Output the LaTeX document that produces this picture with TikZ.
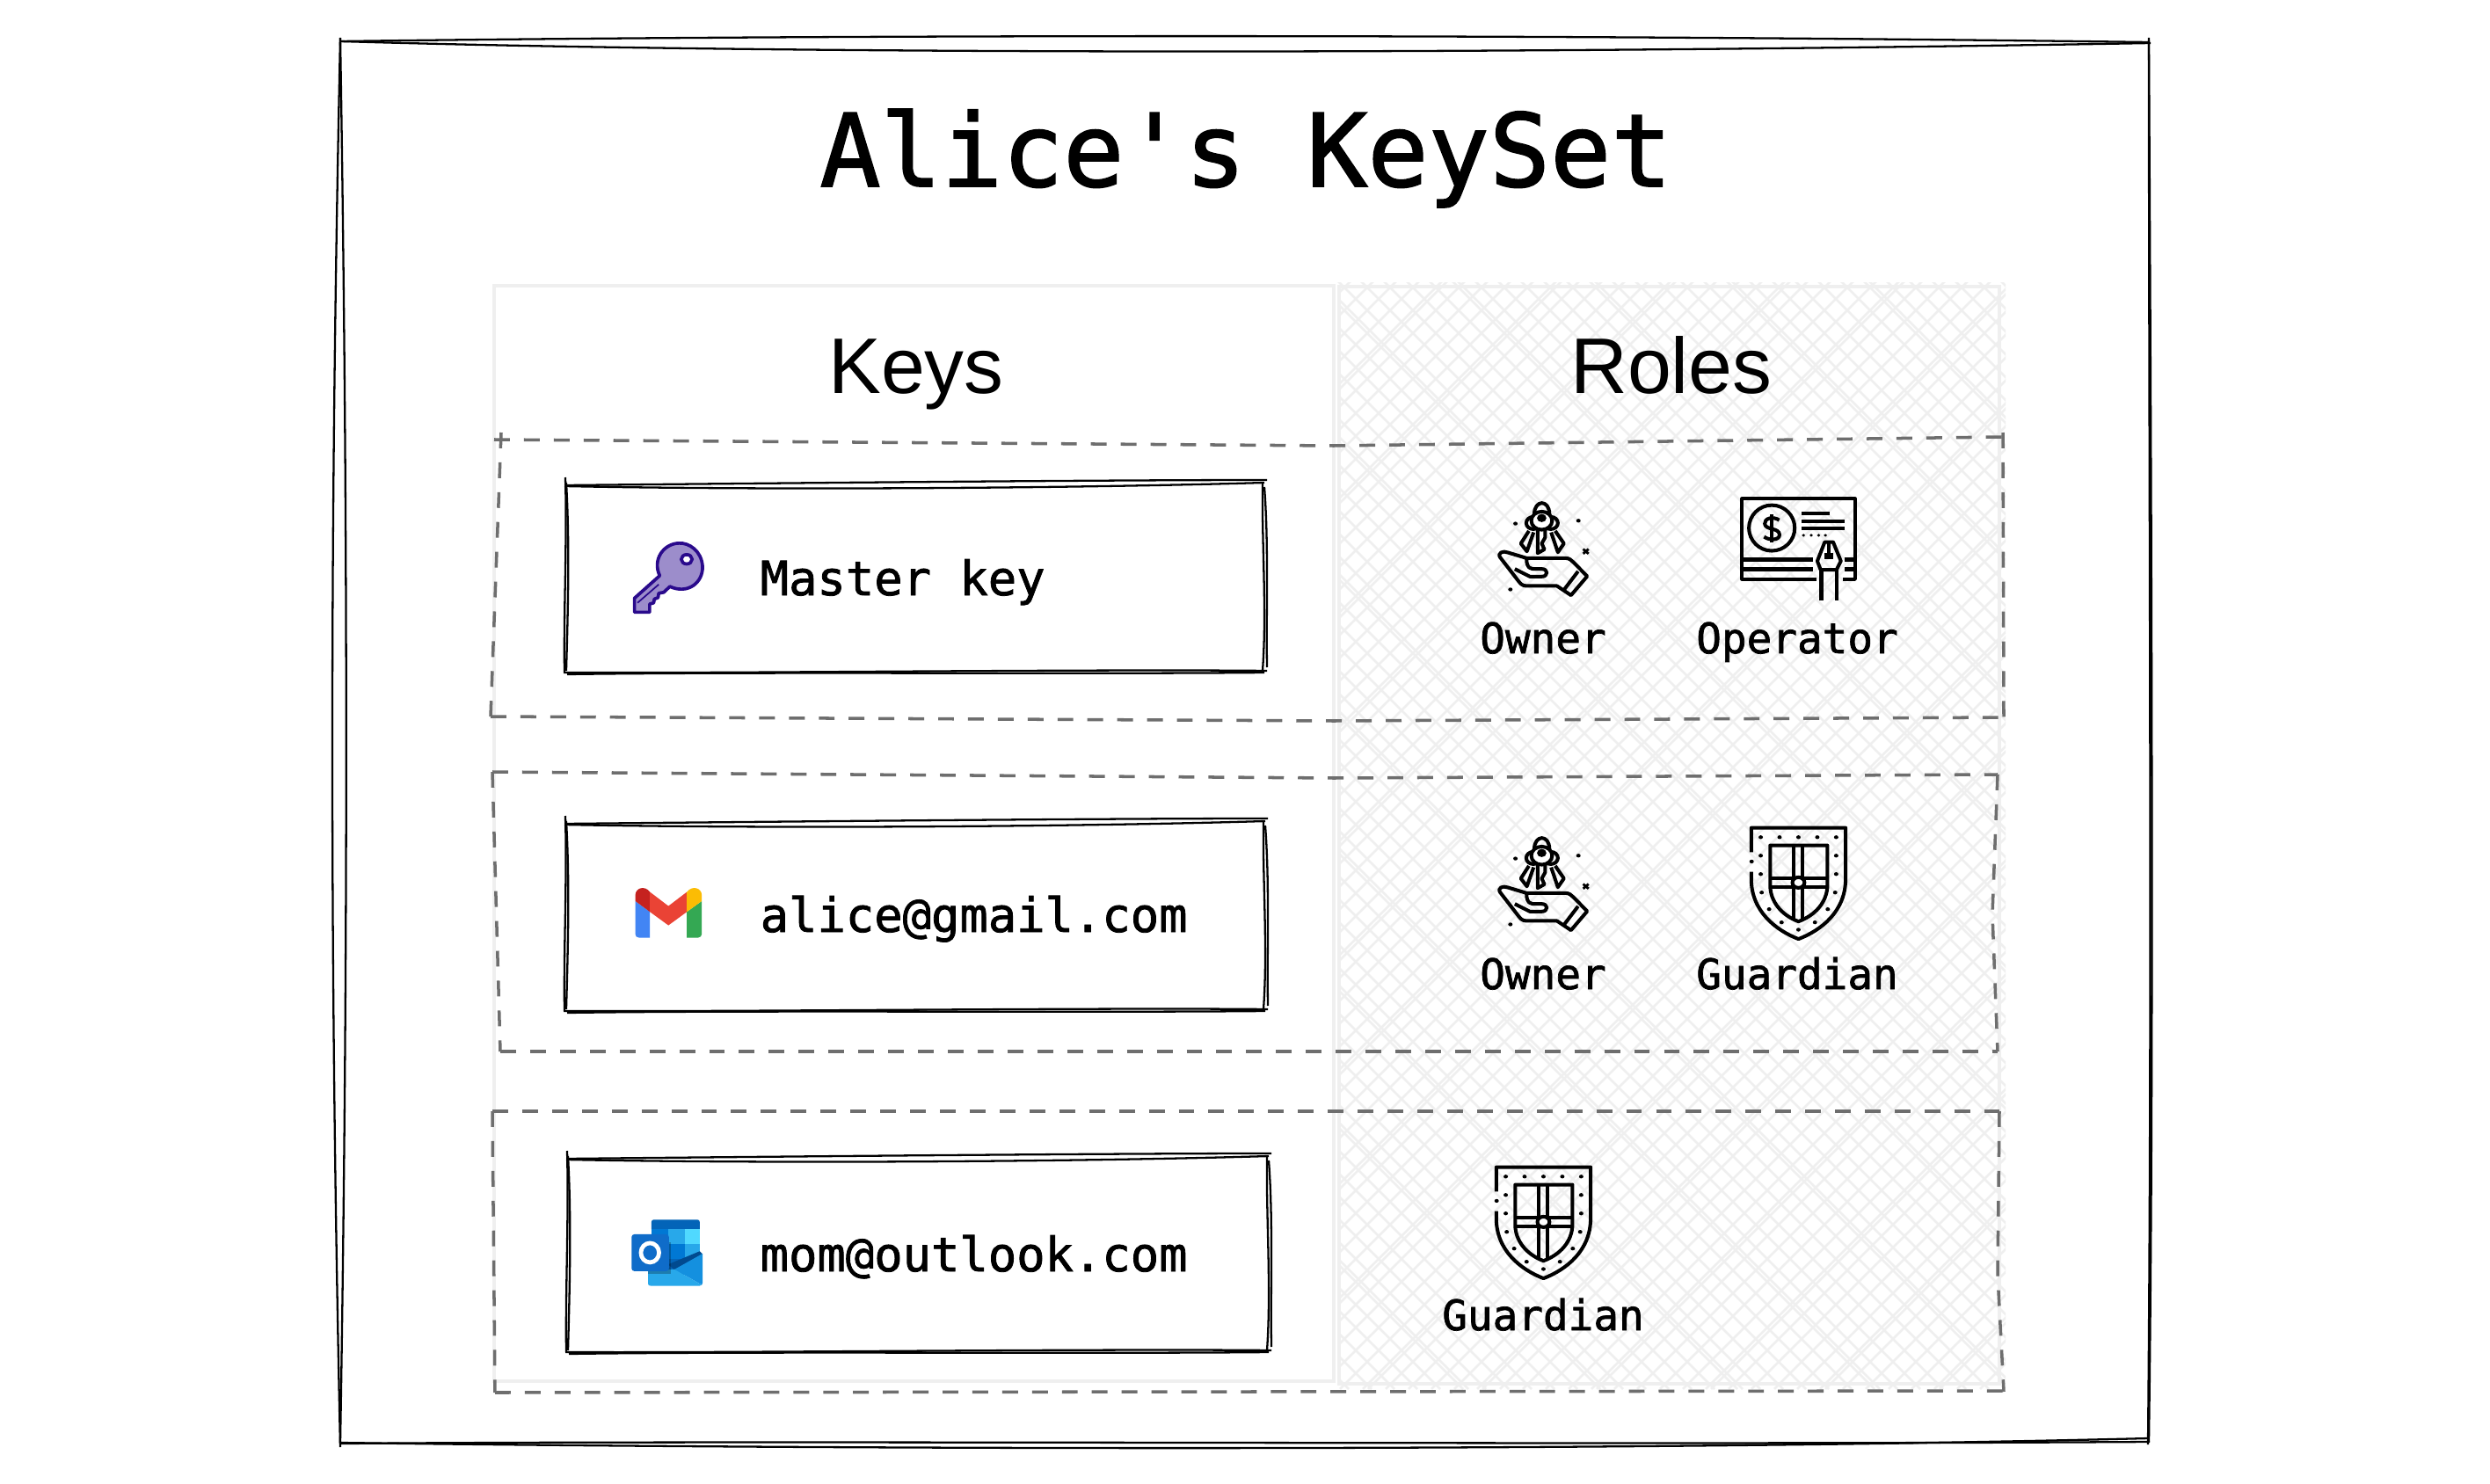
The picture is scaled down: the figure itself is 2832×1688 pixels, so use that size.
\documentclass[tikz,border=0pt]{standalone}
\usepackage{fontspec}
\usepackage{xcolor}
\setmainfont{Liberation Sans}
\newfontfamily\labelmono[FakeBold=1.5]{DejaVu Sans Mono}
\usetikzlibrary{positioning}

\definecolor{panelgray}{HTML}{EFEFEF}
\definecolor{rowgray}{HTML}{6E6E6E}
\definecolor{keyfill}{HTML}{9C8DCB}
\definecolor{keyline}{HTML}{2A0A8C}
\definecolor{gmailblue}{HTML}{4285F4}
\definecolor{gmailgreen}{HTML}{34A853}
\definecolor{gmaildark}{HTML}{C5221F}
\definecolor{gmailred}{HTML}{EA4335}
\definecolor{gmailyellow}{HTML}{FBBC04}
\definecolor{outa}{HTML}{0364B8}
\definecolor{outb}{HTML}{0078D4}
\definecolor{outc}{HTML}{28A8EA}
\definecolor{outd}{HTML}{50D9FF}
\definecolor{oute}{HTML}{014A8F}
\definecolor{outf}{HTML}{1490DF}
\definecolor{outg}{HTML}{0F6CC9}

\tikzset{
  zoomed/.style={x=.003827cm,y=-.003333cm},
  thirds/.style={x=.003333cm,y=-.003333cm},
  sketchline/.style={line width=.65pt,black},
  rowline/.style={line width=1pt,rowgray,dash pattern=on 5.1pt off 4.55pt},
  panelline/.style={line width=1.4pt,panelgray},
  hatchline/.style={line width=.75pt,panelgray},
  iconline/.style={line width=1.15pt,black,line join=round},
  titletext/.style={font=\labelmono\fontsize{32.7}{38}\selectfont,anchor=base,inner sep=0pt},
  headtext/.style={font=\fontsize{25.5}{30}\selectfont,anchor=base,inner sep=0pt},
  keytext/.style={font=\labelmono\fontsize{15.3}{18}\selectfont,anchor=base west,inner sep=0pt},
  roletext/.style={font=\labelmono\fontsize{13.55}{16}\selectfont,anchor=base,inner sep=0pt},
  ownericon/.pic={
    \begin{scope}[zoomed,iconline]
      \foreach \dx/\dy in {192/167,379/157,177/392} \fill (\dx,\dy) circle [radius=6.5];
      \draw[line width=.8pt] (393,254) -- (409,270) (409,254) -- (393,270);
      \draw (248,135) .. controls (248,84) and (293,84) .. (293,135);
      \draw (245,165) circle [radius=21] (297,165) circle [radius=21];
      \draw[fill=white] (270,157) circle [radius=31];
      \fill (270,148) circle [radius=14];
      \draw (258,190) -- (258,268) -- (278,255) -- (270,235) -- (280,215) -- (280,190);
      \draw (232,192) -- (208,235) -- (226,262) -- (246,197);
      \draw (298,197) -- (318,265) -- (336,235) -- (310,192);
      \draw (147,283) .. controls (137,268) and (155,258) .. (170,266) -- (225,285)
        -- (340,285) .. controls (352,285) and (358,292) .. (365,300) -- (405,347)
        -- (357,412) -- (315,380) -- (225,380) .. controls (212,380) and (207,372) .. (200,362) -- cycle;
      \draw (225,288) .. controls (225,322) and (240,322) .. (250,322) -- (270,322)
        .. controls (290,322) and (290,348) .. (270,348) -- (235,348) -- (190,322);
      \draw (378,330) -- (335,395);
    \end{scope}
  },
  operatoricon/.pic={
    \begin{scope}[zoomed,iconline]
      \draw (1085,357) -- (865,357) -- (865,82) -- (1200,82) -- (1200,357) -- (1165,357);
      \draw (953,182) circle [x radius=68,y radius=78];
      \draw (975,155) .. controls (955,140) and (930,150) .. (932,168)
        .. controls (934,190) and (975,180) .. (976,205)
        .. controls (976,225) and (945,225) .. (930,212);
      \draw (953,135) -- (953,230);
      \draw (1040,132) -- (1125,132) (1040,158) -- (1168,158) (1040,183) -- (1168,183);
      \foreach \dx in {1047,1070,1092,1112} \fill (\dx,207) circle [radius=5];
      \draw (870,290) -- (1075,290) (870,323) -- (1075,323);
      \draw (1168,290) -- (1195,290) (1168,323) -- (1195,323);
      \draw (1110,230) -- (1135,230) -- (1158,295) -- (1145,325) -- (1098,325) -- (1088,295) -- cycle;
      \draw (1122,232) -- (1122,280);
      \fill (1108,268) -- (1136,268) -- (1136,288) -- (1108,288) -- cycle;
      \draw (1100,325) -- (1100,430) (1145,325) -- (1145,430);
    \end{scope}
  },
  guardianicon/.pic={
    \begin{scope}[zoomed,iconline]
      \draw (892,118) -- (892,35) -- (1172,35) -- (1172,210)
        .. controls (1172,320) and (1100,385) .. (1032,415)
        .. controls (965,385) and (892,320) .. (892,210) -- (892,185);
      \foreach \dx/\dy in {920/67,976/67,1032/67,1088/67,1144/67,920/130,1144/130,893/150,
        920/193,1144/193,923/256,1141/256,945/313,1119/313,982/358,1081/358,1032/383}
        \fill (\dx,\dy) circle [radius=6.5];
      \draw (948,95) -- (1118,95) -- (1118,230)
        .. controls (1118,290) and (1080,335) .. (1032,355)
        .. controls (985,335) and (948,290) .. (948,230) -- cycle;
      \draw (1017,95) -- (1017,205) (1043,95) -- (1043,205);
      \draw (1017,240) -- (1017,345) (1043,240) -- (1043,345);
      \draw (948,207) -- (1118,207) (948,237) -- (1118,237);
      \draw[fill=white] (1032,222) circle [radius=18];
    \end{scope}
  },
  keyicon/.pic={
    \begin{scope}[zoomed]
      \draw[keyline,fill=keyfill,line width=1.05pt,line join=round] (288,375) -- (213,452) -- (213,500) -- (258,500)
        -- (258,472) -- (270,468) -- (272,455) -- (283,450) -- (285,435) -- (300,432) -- (318,412)
        .. controls (370,440) and (417,400) .. (415,343)
        .. controls (412,290) and (375,262) .. (345,264)
        .. controls (300,265) and (265,320) .. (288,375) -- cycle;
      \draw[keyline,line width=.5pt] (285,405) -- (222,468);
      \draw[keyline,fill=white,line width=1.05pt] (368,319) circle [radius=16];
    \end{scope}
  },
  gmailicon/.pic={
    \begin{scope}[thirds]
      \fill[gmailblue] (128,135) -- (178,172) -- (178,260) -- (140,260) .. controls (132,260) and (128,254) .. (128,248) -- cycle;
      \fill[gmailgreen] (304,172) -- (355,135) -- (355,248) .. controls (355,254) and (350,260) .. (343,260) -- (304,260) -- cycle;
      \fill[gmaildark] (128,135) -- (128,115) .. controls (128,90) and (160,80) .. (178,104) -- (178,172) -- cycle;
      \fill[gmailred] (178,104) -- (241,152) -- (304,104) -- (304,172) -- (241,218) -- (178,172) -- cycle;
      \fill[gmailyellow] (304,104) .. controls (322,80) and (355,90) .. (355,115) -- (355,135) -- (304,172) -- cycle;
    \end{scope}
  },
  outlookicon/.pic={
    \begin{scope}[thirds]
      \fill[outa] (183,85) -- (183,60) .. controls (183,55) and (186,52) .. (191,52) -- (340,52)
        .. controls (345,52) and (348,55) .. (348,60) -- (348,85) -- cycle;
      \fill[outb] (183,85) rectangle (240,135);
      \fill[outc] (240,85) rectangle (296,135);
      \fill[outd] (296,85) rectangle (348,135);
      \fill[outa] (183,135) rectangle (240,185);
      \fill[outb] (240,135) rectangle (296,185);
      \fill[outc] (296,135) rectangle (348,185);
      \fill[oute] (183,185) rectangle (240,240);
      \fill[outa] (240,185) rectangle (296,240);
      \fill[outb] (296,185) rectangle (348,240);
      \fill[oute] (348,160) -- (358,170) -- (262,224) -- (240,205) -- cycle;
      \fill[outf] (358,168) -- (358,268) .. controls (358,272) and (357,274) .. (355,275) -- (262,222) -- cycle;
      \fill[outc] (172,272) -- (172,225) -- (262,222) -- (355,275) -- (348,278) -- (180,278) .. controls (175,278) and (172,276) .. (172,272) -- cycle;
      \fill[black,opacity=.25] (172,130) rectangle (248,236);
      \fill[outg] (125,102) -- (233,102) .. controls (239,102) and (243,106) .. (243,112) -- (243,218)
        .. controls (243,224) and (239,228) .. (233,228) -- (125,228)
        .. controls (119,228) and (115,224) .. (115,218) -- (115,112)
        .. controls (115,106) and (119,102) .. (125,102) -- cycle;
      \draw[white,line width=1.35pt] (178,165) circle [x radius=31,y radius=33];
    \end{scope}
  },
}

\newcommand{\sketchbox}[4]{
  \fill[white] (#1,#2) rectangle (#3,#4);
  \draw[sketchline] (#1-1,#2+3) .. controls (#1+200,#2+1) and (#3-200,#2-3) .. (#3+3,#2-3);
  \draw[sketchline] (#1-1,#2+4) .. controls (#1+250,#2+9) and (#3-200,#2+6) .. (#3,#2);
  \draw[sketchline] (#1,#2-6) .. controls (#1+2,#2+70) and (#1-2,#4-70) .. (#1-1,#4+2);
  \draw[sketchline] (#1+1,#2) .. controls (#1+5,#2+70) and (#1+3,#4-70) .. (#1+1,#4);
  \draw[sketchline] (#3-2,#2+1) .. controls (#3-3,#2+70) and (#3+3,#4-70) .. (#3-2,#4);
  \draw[sketchline] (#3,#2+5) .. controls (#3+5,#2+70) and (#3+2,#4-70) .. (#3+3,#4-4);
  \draw[sketchline] (#1-2,#4+2) .. controls (#1+200,#4+3) and (#3-200,#4-2) .. (#3+3,#4);
  \draw[sketchline] (#1+2,#4+4) .. controls (#1+200,#4+1) and (#3-200,#4+4) .. (#3,#4+2);
}

\begin{document}
\begin{tikzpicture}[x=.01cm,y=-.01cm]
  \useasboundingbox (0,0) rectangle (2832,1688);
  \fill[white] (0,0) rectangle (2832,1688);

  \draw[sketchline] (387,47) .. controls (900,40) and (1700,38) .. (2444,48);
  \draw[sketchline] (387,47) .. controls (900,62) and (1700,62) .. (2446,49);
  \draw[sketchline] (387,43) .. controls (375,600) and (375,1100) .. (387,1646);
  \draw[sketchline] (387,43) .. controls (396,600) and (396,1100) .. (387,1642);
  \draw[sketchline] (2444,43) .. controls (2444,600) and (2448,1100) .. (2443,1643);
  \draw[sketchline] (2444,46) .. controls (2447,600) and (2450,1200) .. (2444,1640);
  \draw[sketchline] (386,1641) .. controls (900,1648) and (1800,1652) .. (2444,1636);
  \draw[sketchline] (388,1642) .. controls (900,1638) and (1800,1644) .. (2445,1640);

  \node[titletext] (title) at (1417,212) {Alice's KeySet};

  \draw[panelline,fill=white] (562,325) rectangle (1517,1571);
  \begin{scope}
    \clip (1521,322) rectangle (2281,1580);
    \foreach \i in {250,276,...,3550} \draw[hatchline] (\i,1580) -- (\i+1260,320);
    \foreach \i in {-1000,-974,...,2300} \draw[hatchline] (\i,320) -- (\i+1260,1580);
    \foreach \i in {256,386,...,3550} \draw[hatchline] (\i,1580) -- (\i+1260,320);
    \foreach \i in {-994,-838,...,2300} \draw[hatchline] (\i,320) -- (\i+1260,1580);
  \end{scope}
  \draw[panelline] (1523,326) rectangle (2274,1574);

  \node[headtext] (keyshead) at (1042,448) {Keys};
  \node[headtext] (roleshead) at (1901,448) {Roles};

  \draw[rowline] (562,500) -- (1517,507) -- (2277,497);
  \draw[rowline] (570,492) -- (558,815);
  \draw[rowline] (2278,492) -- (2279,816);
  \draw[rowline] (558,815) -- (1517,820) -- (2279,816);

  \draw[rowline] (560,878) -- (1517,885) -- (2272,881);
  \draw[rowline] (560,878) -- (569,1196);
  \draw[rowline] (2272,881) -- (2266,1040) -- (2272,1196);
  \draw[rowline] (569,1196) -- (2272,1196);

  \draw[rowline] (560,1264) -- (2274,1264);
  \draw[rowline] (560,1264) -- (563,1584);
  \draw[rowline] (2274,1264) -- (2272,1450) -- (2279,1583);
  \draw[rowline] (563,1584) -- (2279,1582);

  \sketchbox{643}{549}{1438}{763}
  \sketchbox{643}{934}{1439}{1148}
  \sketchbox{645}{1315}{1443}{1536}

  \pic at (640,530) {keyicon};
  \pic at (680,980) {gmailicon};
  \pic at (680,1370) {outlookicon};

  \node[keytext] (masterkey) at (864,677) {Master key};
  \node[keytext] (gmailkey) at (864,1060) {alice@gmail.com};
  \node[keytext] (outlookkey) at (864,1446) {mom@outlook.com};

  \pic at (1650,540) {ownericon};
  \pic at (1650,540) {operatoricon};
  \pic at (1650,921) {ownericon};
  \pic at (1650,930) {guardianicon};
  \pic at (1360,1316) {guardianicon};

  \node[roletext] (ownerone) at (1755,743) {Owner};
  \node[roletext] (operator) at (2044,743) {Operator};
  \node[roletext] (ownertwo) at (1755,1125) {Owner};
  \node[roletext] (guardiantwo) at (2044,1125) {Guardian};
  \node[roletext] (guardianone) at (1755,1513) {Guardian};
\end{tikzpicture}
\end{document}
